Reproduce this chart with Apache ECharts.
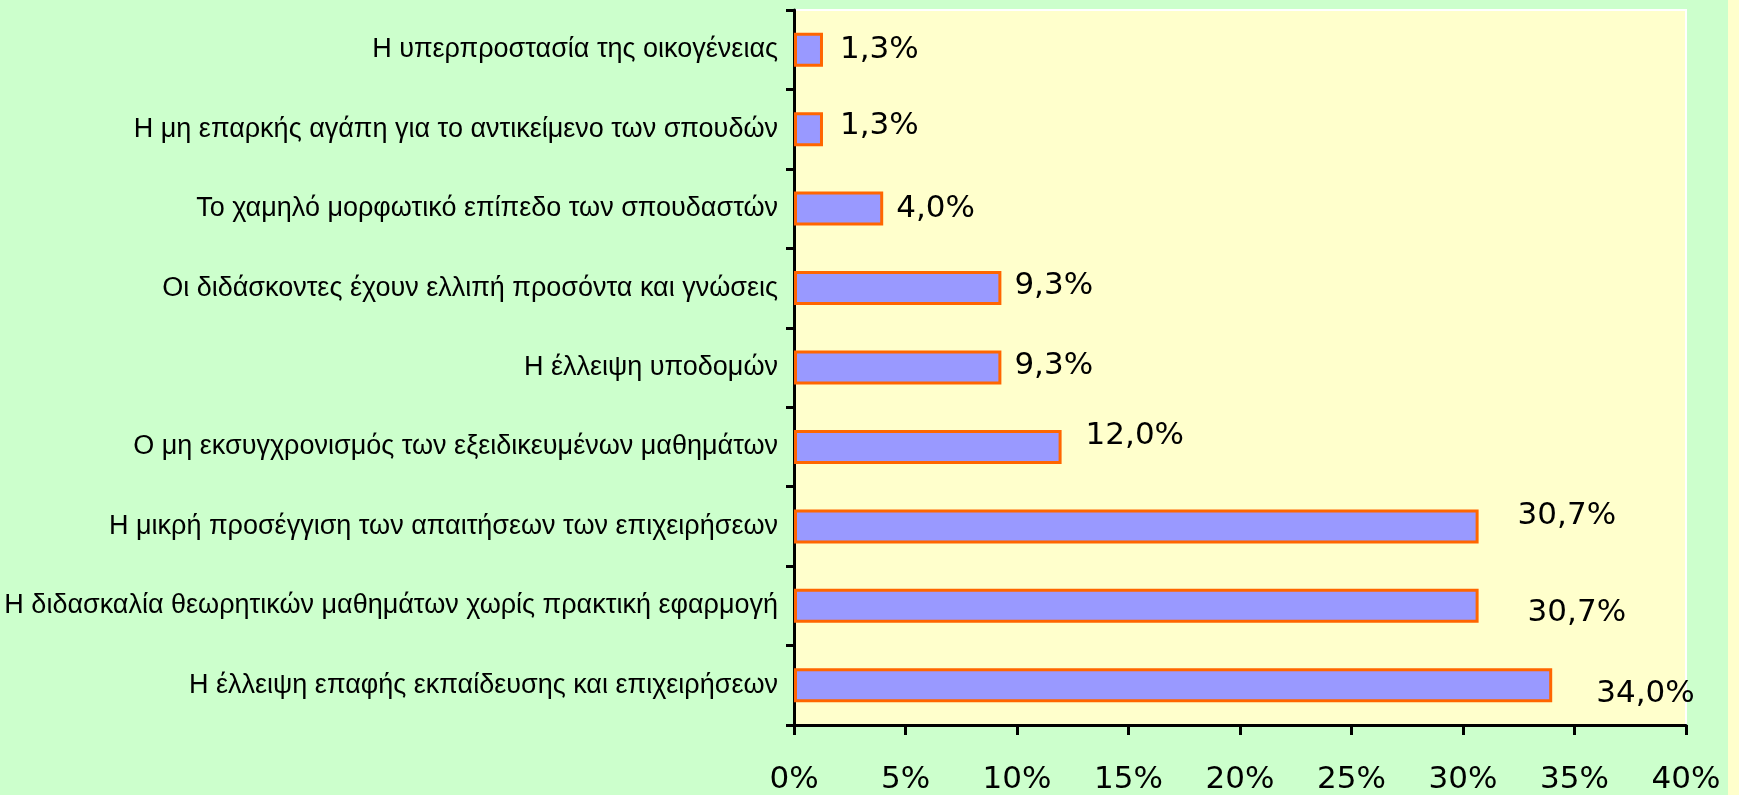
<!DOCTYPE html>
<html>
<head>
<meta charset="utf-8">
<script src="https://cdn.jsdelivr.net/npm/echarts@6/dist/echarts.min.js"></script>
<style>
html,body{margin:0;padding:0;background:#CCFFCC;}
#chart{width:1739px;height:795px;}
</style>
</head>
<body>
<div id="chart"></div>
<script>
// Data (top to bottom as in the reference)
const categories = [
  "Η υπερπροστασία της οικογένειας",
  "Η μη επαρκής αγάπη για το αντικείμενο των σπουδών",
  "Το χαμηλό μορφωτικό επίπεδο των σπουδαστών",
  "Οι διδάσκοντες έχουν ελλιπή προσόντα και γνώσεις",
  "Η έλλειψη υποδομών",
  "Ο μη εκσυγχρονισμός των εξειδικευμένων μαθημάτων",
  "Η μικρή προσέγγιση των απαιτήσεων των επιχειρήσεων",
  "Η διδασκαλία θεωρητικών μαθημάτων χωρίς πρακτική εφαρμογή",
  "Η έλλειψη επαφής εκπαίδευσης και επιχειρήσεων"
];
const percentages = [1.3, 1.3, 4.0, 9.3, 9.3, 12.0, 30.7, 30.7, 34.0];
const xTicks = [0, 5, 10, 15, 20, 25, 30, 35, 40];

// Label nudges (layout only, relative to bar end)
const labelNudge = [[17,0],[17,-3],[13,0],[13,-2],[13,-2],[24,-11],[39,-10],[49,7],[44,9]];

const chart = echarts.init(document.getElementById('chart'), null, {renderer: 'canvas'});

const seriesData = percentages.map((v, i) => ({
  value: v,
  label: { offset: labelNudge[i] }
}));

const option = {
  backgroundColor: '#CCFFCC',
  animation: false,
  graphic: [{
    type: 'rect', right: 0, top: 0, z: -1,
    shape: { width: 11, height: 795 },
    style: { fill: '#FFFFCC' }
  }],
  grid: {
    left: 794, top: 10, width: 892, height: 718,
    show: true, backgroundColor: '#FFFFCC', borderColor: '#FFFFFF', borderWidth: 2
  },
  xAxis: {
    type: 'value',
    min: xTicks[0], max: xTicks[xTicks.length - 1], interval: 5,
    axisLine: { show: true, lineStyle: { color: '#000', width: 3 } },
    axisTick: { show: true, length: 10, lineStyle: { color: '#000', width: 3 } },
    splitLine: { show: false },
    axisLabel: {
      margin: 39,
      fontFamily: 'DejaVu Sans', fontSize: 31, color: '#000',
      formatter: v => v + '%'
    }
  },
  yAxis: {
    type: 'category',
    inverse: true,
    data: categories,
    axisLine: { show: true, lineStyle: { color: '#000', width: 3 } },
    axisTick: { show: true, length: 8, lineStyle: { color: '#000', width: 3 } },
    axisLabel: {
      margin: 16,
      fontFamily: 'Liberation Sans', fontSize: 27, color: '#000'
    }
  },
  series: [{
    type: 'bar',
    data: seriesData,
    barWidth: 34,
    itemStyle: { color: '#9999FF', borderColor: '#FF6600', borderWidth: 3 },
    label: {
      show: true, position: 'right', distance: 0,
      fontFamily: 'DejaVu Sans', fontSize: 31, color: '#000',
      formatter: p => p.value.toFixed(1).replace('.', ',') + '%'
    }
  }]
};
chart.setOption(option);
</script>
</body>
</html>
